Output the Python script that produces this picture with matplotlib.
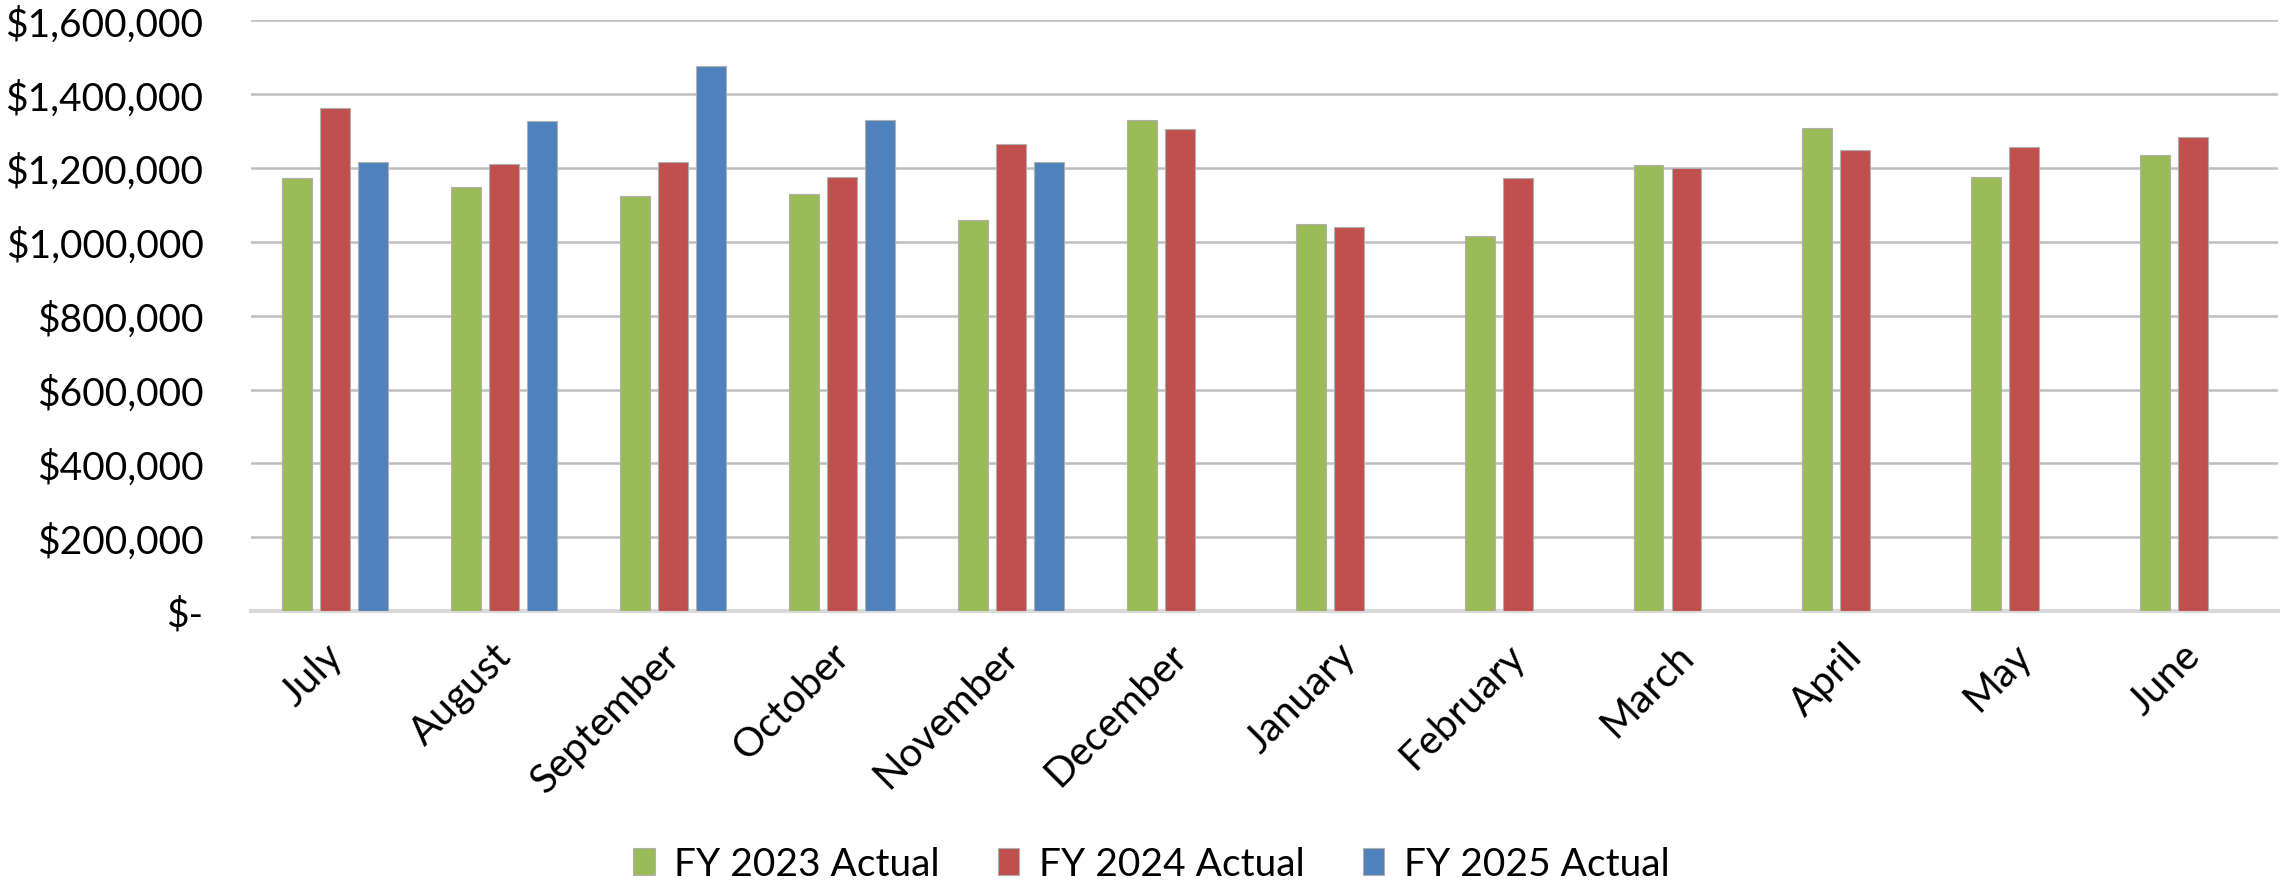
import numpy as np
import matplotlib
matplotlib.use("Agg")
import matplotlib.pyplot as plt
import matplotlib.transforms as mtransforms
from matplotlib.ticker import FuncFormatter, MultipleLocator

plt.rcParams["font.family"] = ["Lato", "DejaVu Sans"]

months = ["July", "August", "September", "October", "November", "December",
          "January", "February", "March", "April", "May", "June"]
fy2023 = [1173000, 1148000, 1124000, 1129000, 1059000, 1330000,
          1049000, 1015000, 1207000, 1308000, 1176000, 1235000]
fy2024 = [1363000, 1210000, 1216000, 1175000, 1265000, 1305000,
          1039000, 1173000, 1201000, 1250000, 1256000, 1284000]
fy2025 = [1216000, 1326000, 1476000, 1330000, 1216000]

series = [
    ("FY 2023 Actual", fy2023, "#9BBB59"),
    ("FY 2024 Actual", fy2024, "#C0504D"),
    ("FY 2025 Actual", fy2025, "#4F81BD"),
]

fig = plt.figure(figsize=(22.8, 8.87), dpi=100)
ax = fig.add_axes([0.110, 0.310, 0.889, 0.666])

x = np.arange(len(months))
width = 0.177
step = 0.225
for i, (label, vals, color) in enumerate(series):
    pos = x[:len(vals)] + (i - 1) * step
    ax.bar(pos, vals, width, color=color, edgecolor="#B0B0B0",
           linewidth=0.8, label=label, zorder=3)

ax.set_xlim(-0.5, len(months) - 0.5)
ax.set_ylim(0, 1600000)
ax.yaxis.set_major_locator(MultipleLocator(200000))
ax.yaxis.set_major_formatter(FuncFormatter(
    lambda v, _: "$-" if v == 0 else f"${v:,.0f}"))
ax.grid(axis="y", color="#BFBFBF", linewidth=1.8, zorder=0)
ax.set_axisbelow(True)

for side in ["top", "right", "left"]:
    ax.spines[side].set_visible(False)
ax.spines["bottom"].set_color("#D9D9D9")
ax.spines["bottom"].set_linewidth(3)

ax.tick_params(axis="y", length=0, pad=34, labelsize=28)
ax.tick_params(axis="x", length=0, pad=18, labelsize=29)
ax.set_xticks(x)
ax.set_xticklabels(months, rotation=45, ha="right", rotation_mode="anchor")

# nudge the month labels a little to the left
shift = mtransforms.ScaledTranslation(-12 / 100, 0, fig.dpi_scale_trans)
for lbl in ax.get_xticklabels():
    lbl.set_transform(lbl.get_transform() + shift)

fig.legend(loc="lower center", bbox_to_anchor=(0.505, -0.035), ncol=3,
           frameon=False, fontsize=28, handlelength=0.55, handleheight=0.7,
           handletextpad=0.5, columnspacing=1.5)

fig.savefig("out.png", dpi=100, facecolor="white")
